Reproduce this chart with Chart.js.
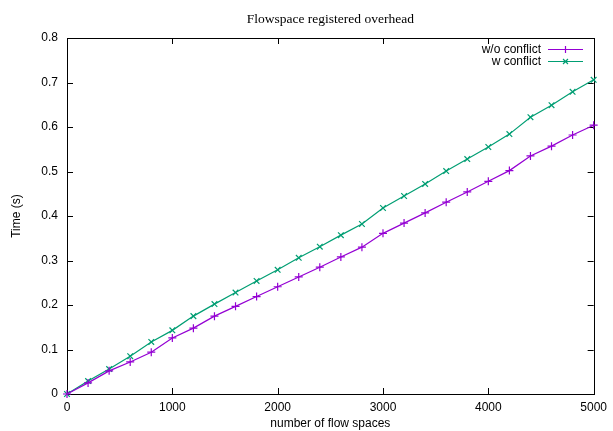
<!DOCTYPE html>
<html><head><meta charset="utf-8">
<script src="https://cdn.jsdelivr.net/npm/chart.js@4"></script>
<style>html,body{margin:0;padding:0;background:#fff}</style>
</head><body>
<canvas id="c" width="613" height="431" style="display:block;width:613px;height:431px"></canvas>
<script>
const flowSpaces = [0,200,400,600,800,1000,1200,1400,1600,1800,2000,2200,2400,2600,2800,3000,3200,3400,3600,3800,4000,4200,4400,4600,4800,5000];
const woConflict = [0,0.025,0.052,0.072,0.094,0.126,0.148,0.175,0.197,0.219,0.241,0.263,0.285,0.308,0.330,0.361,0.384,0.407,0.431,0.454,0.478,0.502,0.535,0.557,0.582,0.604];
const wConflict  = [0,0.029,0.056,0.085,0.117,0.143,0.175,0.202,0.228,0.254,0.279,0.306,0.331,0.357,0.382,0.418,0.445,0.472,0.501,0.528,0.555,0.584,0.622,0.649,0.679,0.706];
const xTicks = [0,1000,2000,3000,4000,5000];
const yTicks = [0,0.1,0.2,0.3,0.4,0.5,0.6,0.7,0.8];
const seriesNames = ['w/o conflict','w conflict'];
const chartTitle = 'Flowspace registered overhead';
const xTitle = 'number of flow spaces';
const yTitle = 'Time (s)';

const SANS = '"Liberation Sans", Arial, sans-serif';
const SERIF = '"Liberation Serif", "Times New Roman", serif';

const framePlugin = {
  id: 'frame',
  beforeDatasetsDraw(chart) {
    const {ctx, chartArea: a, scales: {x, y}} = chart;
    ctx.save();
    ctx.strokeStyle = '#000';
    ctx.lineWidth = 1;
    ctx.strokeRect(Math.round(a.left) + 0.5, Math.round(a.top) + 0.5, Math.round(a.right - a.left), Math.round(a.bottom - a.top));
    const tl = 6;
    ctx.beginPath();
    xTicks.forEach(v => {
      const p = Math.round(x.getPixelForValue(v)) + 0.5;
      ctx.moveTo(p, a.bottom); ctx.lineTo(p, a.bottom - tl);
      ctx.moveTo(p, a.top); ctx.lineTo(p, a.top + tl);
    });
    yTicks.forEach(v => {
      const p = Math.round(y.getPixelForValue(v)) + 0.5;
      ctx.moveTo(a.left, p); ctx.lineTo(a.left + tl, p);
      ctx.moveTo(a.right, p); ctx.lineTo(a.right - tl, p);
    });
    ctx.stroke();
    ctx.fillStyle = '#000';
    ctx.font = '13.5px ' + SERIF;
    ctx.textAlign = 'center';
    ctx.textBaseline = 'middle';
    ctx.fillText(chartTitle, (a.left + a.right) / 2, 19);
    ctx.restore();
  },
  afterDatasetsDraw(chart) {
    const {ctx} = chart;
    ctx.save();
    ctx.font = '12px ' + SANS;
    ctx.textAlign = 'right';
    ctx.textBaseline = 'middle';
    chart.data.datasets.forEach((ds, i) => {
      const yy = 49.5 + i * 12;
      ctx.fillStyle = '#000';
      ctx.fillText(ds.label, 541, yy);
      ctx.strokeStyle = ds.borderColor;
      ctx.lineWidth = ds.borderWidth;
      ctx.beginPath(); ctx.moveTo(548, yy); ctx.lineTo(583, yy); ctx.stroke();
      Chart.helpers.drawPoint(ctx, {pointStyle: ds.pointStyle, radius: 3.5, borderWidth: ds.pointBorderWidth, rotation: 0}, 565.5, yy);
    });
    ctx.restore();
  }
};

const toPts = arr => flowSpaces.map((f, i) => ({x: f, y: arr[i]}));

new Chart(document.getElementById('c'), {
  type: 'line',
  data: {
    datasets: [
      {label: seriesNames[0], data: toPts(woConflict), borderColor: '#9400d3', backgroundColor: '#9400d3', borderWidth: 1.2, pointStyle: 'cross', pointRadius: 4, pointBorderWidth: 1.2, pointBorderColor: '#9400d3', fill: false, tension: 0, clip: false},
      {label: seriesNames[1], data: toPts(wConflict), borderColor: '#009e73', backgroundColor: '#009e73', borderWidth: 1.2, pointStyle: 'crossRot', pointRadius: 4, pointBorderWidth: 1.2, pointBorderColor: '#009e73', fill: false, tension: 0, clip: false}
    ]
  },
  options: {
    responsive: false,
    animation: false,
    devicePixelRatio: 1,
    layout: {padding: {top: 38, right: 16, left: 0, bottom: 0}},
    plugins: {legend: {display: false}, tooltip: {enabled: false}, title: {display: false}},
    scales: {
      x: {
        type: 'linear', min: 0, max: 5000,
        afterBuildTicks(s) { s.ticks = xTicks.map(v => ({value: v})); },
        afterFit(s) { s.height = 37; },
        grid: {display: false, drawTicks: false},
        border: {display: false},
        ticks: {color: '#000', padding: 6, font: {family: SANS, size: 12}, maxRotation: 0, callback: v => String(v)},
        title: {display: true, text: xTitle, color: '#000', font: {family: SANS, size: 12}, padding: {top: 0, bottom: 0}}
      },
      y: {
        type: 'linear', min: 0, max: 0.8,
        afterBuildTicks(s) { s.ticks = yTicks.map(v => ({value: v})); },
        afterFit(s) { s.width = 67; },
        grid: {display: false, drawTicks: false},
        border: {display: false},
        ticks: {color: '#000', padding: 9, font: {family: SANS, size: 12}, callback: v => String(Math.round(v * 10) / 10)},
        title: {display: true, text: yTitle, color: '#000', font: {family: SANS, size: 12}, padding: {top: 9, bottom: 0}}
      }
    }
  },
  plugins: [framePlugin]
});
</script>
</body></html>
